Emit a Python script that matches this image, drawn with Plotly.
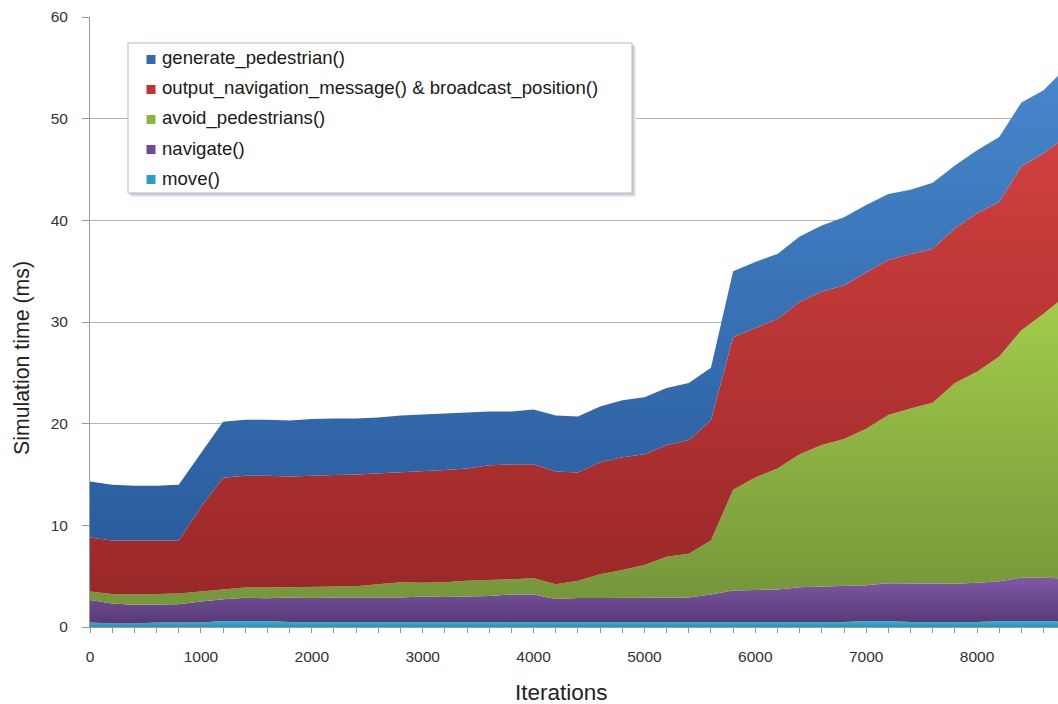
import plotly.graph_objects as go

# Iteration count at each sample
iterations = [0, 200, 400, 600, 800, 1000, 1200, 1400, 1600, 1800,
              2000, 2200, 2400, 2600, 2800, 3000, 3200, 3400, 3600, 3800,
              4000, 4200, 4400, 4600, 4800, 5000, 5200, 5400, 5600, 5800,
              6000, 6200, 6400, 6600, 6800, 7000, 7200, 7400, 7600, 7800,
              8000, 8200, 8400, 8600, 8800]

# Per-function simulation time (ms) at each sample
move_ms = [0.45, 0.35, 0.35, 0.45, 0.45, 0.45, 0.58, 0.58, 0.58, 0.5,
           0.5, 0.5, 0.5, 0.5, 0.5, 0.5, 0.5, 0.5, 0.5, 0.5,
           0.5, 0.5, 0.5, 0.5, 0.5, 0.5, 0.5, 0.5, 0.5, 0.5,
           0.55, 0.5, 0.5, 0.5, 0.5, 0.6, 0.6, 0.5, 0.5, 0.5,
           0.5, 0.6, 0.6, 0.6, 0.5]
navigate_ms = [2.2, 1.95, 1.85, 1.8, 1.8, 2.05, 2.15, 2.3, 2.25, 2.4,
               2.35, 2.4, 2.4, 2.4, 2.4, 2.5, 2.45, 2.5, 2.55, 2.7,
               2.7, 2.25, 2.35, 2.35, 2.35, 2.4, 2.4, 2.4, 2.7, 3.1,
               3.1, 3.2, 3.4, 3.45, 3.5, 3.5, 3.7, 3.8, 3.75, 3.75,
               3.85, 3.9, 4.25, 4.25, 4.25]
avoid_ms = [0.85, 0.95, 1.0, 1.0, 1.05, 1.0, 0.95, 1.0, 1.05, 1.0,
            1.1, 1.1, 1.1, 1.3, 1.5, 1.35, 1.45, 1.55, 1.55, 1.5,
            1.6, 1.45, 1.7, 2.35, 2.75, 3.2, 4.0, 4.3, 5.3, 9.9,
            11.05, 11.9, 13.1, 13.95, 14.5, 15.4, 16.55, 17.2, 17.8, 19.75,
            20.75, 22.1, 24.35, 25.95, 27.85]
output_ms = [5.3, 5.25, 5.3, 5.25, 5.2, 8.3, 11.0, 11.0, 11.0, 10.9,
             10.95, 10.95, 11.0, 10.9, 10.8, 10.95, 11.05, 11.05, 11.3, 11.3,
             11.2, 11.1, 10.65, 11.0, 11.1, 10.9, 11.0, 11.2, 11.8, 15.0,
             14.7, 14.7, 15.0, 15.1, 15.1, 15.4, 15.25, 15.2, 15.15, 15.2,
             15.6, 15.2, 16.1, 15.8, 15.6]
generate_ms = [5.5, 5.5, 5.4, 5.4, 5.5, 5.3, 5.5, 5.5, 5.5, 5.5,
               5.55, 5.55, 5.5, 5.5, 5.6, 5.6, 5.55, 5.5, 5.3, 5.2,
               5.4, 5.5, 5.5, 5.5, 5.6, 5.6, 5.6, 5.6, 5.2, 6.5,
               6.5, 6.4, 6.4, 6.5, 6.7, 6.6, 6.5, 6.3, 6.5, 6.2,
               6.2, 6.4, 6.3, 6.2, 6.8]

x_ticks = [0, 1000, 2000, 3000, 4000, 5000, 6000, 7000, 8000]
y_ticks = [0, 10, 20, 30, 40, 50, 60]

# Stack order: bottom to top
series = [
    ("move()", move_ms, "#2a8fb0", "#37b6d6", 0.0, 0.6, "#2a9dc2"),
    ("navigate()", navigate_ms, "#583a76", "#8259aa", 0.4, 5.0, "#6b4b9a"),
    ("avoid_pedestrians()", avoid_ms, "#76973a", "#a2ce4b", 3.0, 33.0, "#8db63e"),
    ("output_navigation_message() & broadcast_position()", output_ms,
     "#9a2828", "#d0403f", 3.0, 48.0, "#c4332f"),
    ("generate_pedestrian()", generate_ms, "#295c9d", "#4787cc", 8.0, 55.0, "#2e6bb3"),
]

FONT = "Liberation Sans, Arial, sans-serif"
W, H = 1058, 704
L, R, T, B = 90, 0, 17, 77
PW, PH = W - L - R, H - T - B


def px(xp):
    return (xp - L) / PW


def py(yp):
    return (H - B - yp) / PH


fig = go.Figure()
for name, vals, c_lo, c_hi, g0, g1, _ in series:
    fig.add_trace(go.Scatter(
        x=iterations, y=vals, name=name, mode="lines",
        stackgroup="t", line=dict(width=0),
        fillgradient=dict(type="vertical", start=g0, stop=g1,
                          colorscale=[[0, c_lo], [1, c_hi]]),
        showlegend=False, hoverinfo="x+y+name",
    ))

shapes = []
annotations = []

# Legend box with a soft shadow
bx0, by0, bx1, by1 = 128, 43, 632, 193
for off, col in [(4, "#ececec"), (3, "#dedede"), (2, "#cfcfcf")]:
    shapes.append(dict(type="rect", xref="paper", yref="paper",
                       x0=px(bx0 + off), x1=px(bx1 + off),
                       y0=py(by0 + off), y1=py(by1 + off),
                       line=dict(width=0), fillcolor=col, layer="above"))
shapes.append(dict(type="rect", xref="paper", yref="paper",
                   x0=px(bx0), x1=px(bx1), y0=py(by0), y1=py(by1),
                   line=dict(color="#a3bde0", width=1), fillcolor="white",
                   layer="above"))

legend_rows = list(reversed(series))
for i, (name, _, _, _, _, _, swatch) in enumerate(legend_rows):
    cy = 59.5 + 30 * i
    shapes.append(dict(type="rect", xref="paper", yref="paper",
                       x0=px(146.5), x1=px(155.5), y0=py(cy - 4.5), y1=py(cy + 4.5),
                       line=dict(width=0), fillcolor=swatch, layer="above"))
    annotations.append(dict(xref="paper", yref="paper", x=px(159.5), y=py(cy - 1.5),
                            xanchor="left", yanchor="middle", showarrow=False,
                            text=name, font=dict(family=FONT, size=18.6, color="#1a1a1a")))

# Axis titles
annotations.append(dict(xref="paper", yref="paper", x=px(561.5), y=py(692),
                        xanchor="center", yanchor="middle", showarrow=False,
                        text="Iterations", font=dict(family=FONT, size=22.5, color="#222222")))
annotations.append(dict(xref="paper", yref="paper", x=px(22), y=py(358),
                        xanchor="center", yanchor="middle", showarrow=False, textangle=-90,
                        text="Simulation time (ms)",
                        font=dict(family=FONT, size=21.3, color="#222222")))

fig.update_layout(
    width=W, height=H, autosize=False,
    margin=dict(l=L, r=R, t=T, b=B, pad=0),
    paper_bgcolor="white", plot_bgcolor="white",
    font=dict(family=FONT, color="#333333"),
    showlegend=False,
    shapes=shapes, annotations=annotations,
    xaxis=dict(range=[0, 8730], tickvals=x_ticks, ticks="outside", ticklen=5,
               tickcolor="#9a9a9a", tickwidth=1, showline=True, linecolor="#9a9a9a",
               linewidth=1, showgrid=False, zeroline=False,
               tickfont=dict(size=15.5, color="#333333"), ticklabelstandoff=10,
               minor=dict(dtick=200, tick0=0, ticks="outside", ticklen=5,
                          tickcolor="#9a9a9a", showgrid=False)),
    yaxis=dict(range=[0, 60], tickvals=y_ticks, ticks="outside", ticklen=7,
               tickcolor="#9a9a9a", tickwidth=1, showline=True, linecolor="#9a9a9a",
               linewidth=1, showgrid=True, gridcolor="#b4b4b4", gridwidth=1,
               zeroline=False, tickfont=dict(size=15.5, color="#333333"),
               ticklabelstandoff=11),
)

fig.write_html("out.html")
